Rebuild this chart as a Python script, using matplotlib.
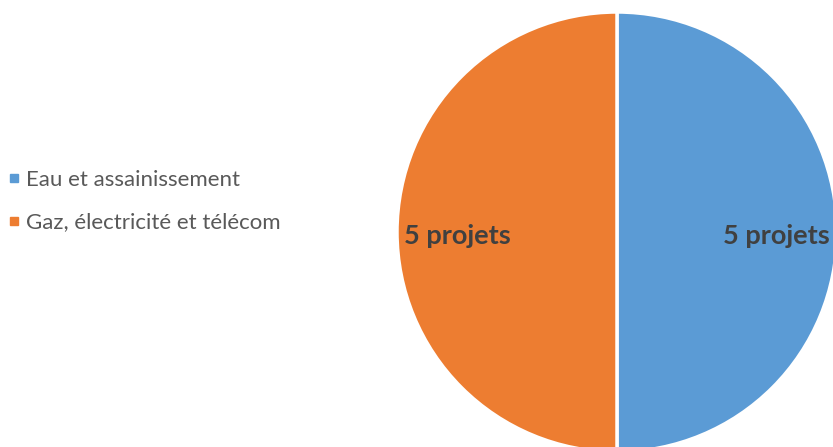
import matplotlib
matplotlib.use("Agg")
import matplotlib.pyplot as plt
from matplotlib.lines import Line2D

categories = ["Eau et assainissement", "Gaz, électricité et télécom"]
values = [5, 5]
value_labels = ["5 projets", "5 projets"]
colors = ["#5B9BD5", "#ED7D31"]

W, H = 833, 447
fig = plt.figure(figsize=(W / 100, H / 100), dpi=100)
ax = fig.add_axes([0, 0, 1, 1])

labels_iter = iter(value_labels)
wedges, texts, autotexts = ax.pie(
    values,
    colors=colors,
    startangle=90,
    counterclock=False,
    center=(617, H - 232),
    radius=220,
    autopct=lambda p: next(labels_iter),
    pctdistance=0.725,
    wedgeprops=dict(edgecolor="white", linewidth=2.5),
    textprops=dict(color="#404040", fontsize=19.5, fontweight="bold", family="Lato"),
)
for t in autotexts:
    x, y = t.get_position()
    t.set_position((x, y - 4))
ax.set_xlim(0, W)
ax.set_ylim(0, H)
ax.set_aspect("equal")
ax.axis("off")

handles = [Line2D([0], [0], marker="s", linestyle="none", markersize=6,
                  markerfacecolor=c, markeredgecolor=c) for c in colors]
leg = fig.legend(handles, categories, loc="center left",
                 bbox_to_anchor=(8 / W, 1 - 201 / H), frameon=False,
                 borderpad=0, borderaxespad=0,
                 handlelength=0.5, handletextpad=0.3, labelspacing=1.02,
                 prop=dict(family="Lato", size=16))
for t in leg.get_texts():
    t.set_color("#595959")

fig.savefig("out.png", dpi=100)
